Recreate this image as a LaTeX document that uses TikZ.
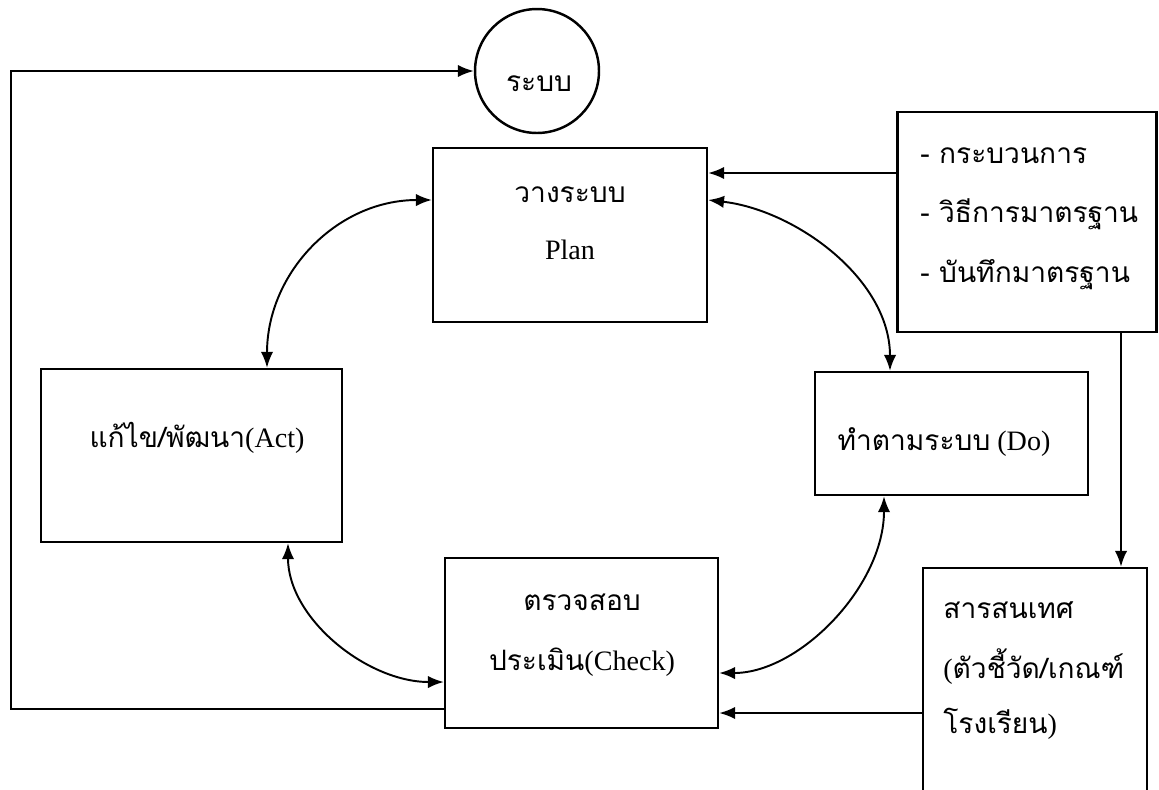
\documentclass[tikz,border=0pt]{standalone}
\usepackage{fontspec}
\setmainfont{Liberation Serif}
\newfontfamily\thaifont[Script=Thai]{Loma}
\usetikzlibrary{arrows.meta}

\begin{document}
\begin{tikzpicture}[x=0.02cm, y=-0.02cm,
    box/.style={draw, line width=1.4pt, inner sep=0pt},
    txt/.style={inner sep=0pt, anchor=base, font=\fontsize{16}{19}\selectfont},
    ltxt/.style={txt, anchor=base west},
    arr/.style={line width=1.2pt, -{Latex[length=9pt,width=7pt]}},
    dbl/.style={line width=1.1pt, {Latex[length=9pt,width=7pt]}-{Latex[length=9pt,width=7pt]}}]
          \useasboundingbox (0,0) rectangle (1159,789);

          % boxes
          \node[box, circle, minimum size=2.48cm] (sys) at (537,71) {};
          \node[box, minimum width=5.48cm, minimum height=3.48cm] (plan) at (570,235) {};
          \node[box, minimum width=5.18cm, minimum height=4.4cm] (std) at (1027,222) {};
          \node[box, minimum width=6.02cm, minimum height=3.46cm] (act) at (191.5,455.5) {};
          \node[box, minimum width=5.46cm, minimum height=2.46cm] (do) at (951.5,433.5) {};
          \node[box, minimum width=5.46cm, minimum height=3.4cm] (check) at (581.5,643) {};
          \node[box, minimum width=4.48cm, minimum height=4.64cm] (info) at (1035,684) {};

          % texts
          \node[txt] (systxt) at (539,91) {\thaifont ระบบ};
          \node[txt] (planth) at (570,202) {\thaifont วางระบบ};
          \node[txt] (planen) at (570,259) {Plan};
          \node[ltxt] (std1) at (920,163) {\thaifont - กระบวนการ};
          \node[ltxt] (std2) at (920,222) {\thaifont - วิธีการมาตรฐาน};
          \node[ltxt] (std3) at (920,282) {\thaifont - บันทึกมาตรฐาน};
          \node[txt] (acttxt) at (197,447) {{\thaifont แก้ไข/พัฒนา}(Act)};
          \node[txt] (dotxt) at (944,450) {{\thaifont ทำตามระบบ} (Do)};
          \node[txt] (check1) at (582,610) {\thaifont ตรวจสอบ};
          \node[txt] (check2) at (582,670) {{\thaifont ประเมิน}(Check)};
          \node[ltxt] (info1) at (943,618) {\thaifont สารสนเทศ};
          \node[ltxt] (info2) at (943,678) {({\thaifont ตัวชี้วัด/เกณฑ์}};
          \node[ltxt] (info3) at (943,733) {{\thaifont โรงเรียน})};

          % straight connectors
          \coordinate (lb) at (11,709);
          \coordinate (lt) at (11,71);
          \coordinate (y173) at (0,173);
          \coordinate (y713) at (0,713);
          \coordinate (x1121) at (1121,0);
          \draw[arr] (check.west |- lb) -- (lb) -- (lt) -- (sys.west);
          \draw[arr] (std.west |- y173) -- (plan.east |- y173);
          \draw[arr] (std.south -| x1121) -- (info.north -| x1121);
          \draw[arr] (info.west |- y713) -- (check.east |- y713);

          % PDCA cycle
          \coordinate (y200) at (0,200);
          \coordinate (x267) at (267,0);
          \coordinate (x890) at (890,0);
          \coordinate (x288) at (288,0);
          \coordinate (y682) at (0,682);
          \coordinate (x884) at (884,0);
          \coordinate (y673) at (0,673);
          \draw[dbl] (act.north -| x267) .. controls +(0,-95) and +(-95,0) .. (plan.west |- y200);
          \draw[dbl] (plan.east |- y200) .. controls +(87,10) and +(0,-92) .. (do.north -| x890);
          \draw[dbl] (act.south -| x288) .. controls +(0,75) and +(-77,0) .. (check.west |- y682);
          \draw[dbl] (do.south -| x884) .. controls +(0,90) and +(80,0) .. (check.east |- y673);

\end{tikzpicture}
\end{document}
